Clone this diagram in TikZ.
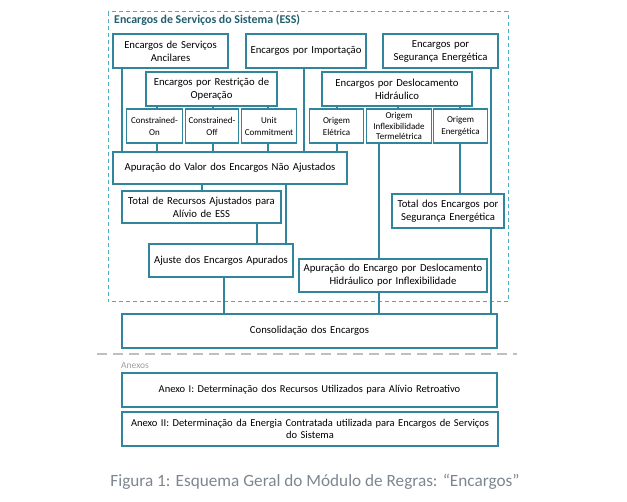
\documentclass[tikz,border=0pt]{standalone}
\usepackage{fontspec}
\setmainfont{Carlito}
\begin{document}
\begin{tikzpicture}[x=1pt,y=-1pt,
  box/.style={draw=boxc, line width=1.6pt, fill=white, align=center, inner sep=1pt,
    font=\fontsize{10.7}{13}\selectfont, text=black},
  sbox/.style={box, font=\fontsize{9}{12}\selectfont},
  conn/.style={draw=boxc, line width=1.4pt}]
\definecolor{boxc}{HTML}{31859C}
\definecolor{framec}{HTML}{4BACC6}
\definecolor{titlec}{HTML}{215E6E}
\definecolor{grayc}{HTML}{BFBFBF}
\definecolor{capc}{HTML}{7D8690}
\useasboundingbox (0,0) rectangle (627,502);
% ESS frame
\draw[framec, line width=1pt, dash pattern=on 4pt off 3pt] (108,12) rectangle (508,302);
\node[anchor=west, font=\bfseries\fontsize{11.9}{13}\selectfont, text=titlec, inner sep=0pt] (title) at (114,20) {Encargos de Serviços do Sistema (ESS)};
% x-coordinates
\foreach \xx in {122,157,202,213,224,257,268,286,304,337,379,398,460,491}
  \coordinate (x\xx) at (\xx,0);
% boxes
\node[box, minimum width=115pt, minimum height=34pt, text width=112pt] (anc) at (170.5,51) {Encargos de Serviços\\Ancilares};
\node[box, minimum width=120pt, minimum height=34pt, text width=117pt] (imp) at (306,51) {Encargos por Importação};
\node[box, minimum width=115pt, minimum height=34pt, text width=112pt] (seg) at (440.5,51) {Encargos por\\Segurança Energética};
\node[box, minimum width=131pt, minimum height=34pt, text width=128pt] (res) at (211.5,89) {Encargos por Restrição de\\Operação};
\node[box, minimum width=150pt, minimum height=34pt, text width=147pt] (des) at (397,89) {Encargos por Deslocamento\\Hidráulico};
\node[sbox, minimum width=55pt, minimum height=34pt, text width=54pt] (con) at (154.5,126) {Constrained-\\On};
\node[sbox, minimum width=52pt, minimum height=34pt, text width=51pt] (coff) at (212,126) {Constrained-\\Off};
\node[sbox, minimum width=54pt, minimum height=34pt, text width=53pt] (uc) at (269,126) {Unit\\Commitment};
\node[sbox, minimum width=53pt, minimum height=34pt, text width=52pt] (oel) at (336.5,126) {Origem\\Elétrica};
\node[sbox, minimum width=64pt, minimum height=34pt, text width=63pt, font=\fontsize{9}{10.3}\selectfont] (oin) at (399,126) {Origem\\Inflexibilidade\\Termelétrica};
\node[sbox, minimum width=53pt, minimum height=34pt, text width=52pt] (oen) at (460.5,126) {Origem\\Energética};
\node[box, minimum width=234pt, minimum height=32pt, text width=231pt] (apv) at (230,168) {Apuração do Valor dos Encargos Não Ajustados};
\node[box, minimum width=159pt, minimum height=32pt, text width=156pt] (tra) at (201.5,207) {Total de Recursos Ajustados para\\Alívio de ESS};
\node[box, minimum width=112pt, minimum height=34pt, text width=110pt] (tse) at (448,211) {Total dos Encargos por\\Segurança Energética};
\node[box, minimum width=144pt, minimum height=33pt, text width=141pt] (aju) at (221,260.5) {Ajuste dos Encargos Apurados};
\node[box, minimum width=188pt, minimum height=33pt, text width=186pt] (ade) at (393,275.5) {Apuração do Encargo por Deslocamento\\Hidráulico por Inflexibilidade};
\node[box, minimum width=375pt, minimum height=34pt, text width=372pt] (cons) at (309.5,331) {Consolidação dos Encargos};
% connectors
\draw[conn] (anc.south -| x122) -- (apv.north -| x122);
\draw[conn] (imp.south -| x304) -- (apv.north -| x304);
\draw[conn] (seg.south -| x491) -- (tse.north -| x491);
\draw[conn] (tse.south -| x491) -- (cons.north -| x491);
\draw[conn] (res.south -| x157) -- (con.north -| x157);
\draw[conn] (res.south -| x213) -- (coff.north -| x213);
\draw[conn] (res.south -| x268) -- (uc.north -| x268);
\draw[conn] (con.south -| x157) -- (apv.north -| x157);
\draw[conn] (coff.south -| x213) -- (apv.north -| x213);
\draw[conn] (uc.south -| x268) -- (apv.north -| x268);
\draw[conn] (des.south -| x337) -- (oel.north -| x337);
\draw[conn] (des.south -| x398) -- (oin.north -| x398);
\draw[conn] (des.south -| x460) -- (oen.north -| x460);
\draw[conn] (oel.south -| x337) -- (apv.north -| x337);
\draw[conn] (oin.south -| x379) -- (ade.north -| x379);
\draw[conn] (oen.south -| x460) -- (tse.north -| x460);
\draw[conn] (apv.south -| x202) -- (tra.north -| x202);
\draw[conn] (apv.south -| x286) -- (aju.north -| x286);
\draw[conn] (tra.south -| x257) -- (aju.north -| x257);
\draw[conn] (aju.south -| x224) -- (cons.north -| x224);
\draw[conn] (ade.south -| x379) -- (cons.north -| x379);
% annex separator
\coordinate (sepL) at (97,354);
\coordinate (sepR) at (517,354);
\draw[grayc, line width=2pt, dash pattern=on 10pt off 6pt] (sepL) -- (sepR);
\node[anchor=west, font=\fontsize{9.5}{11}\selectfont, text=gray!75, inner sep=0pt] (anexos) at (121,365) {Anexos};
\node[box, minimum width=375pt, minimum height=34pt, text width=373pt, font=\fontsize{10.5}{12.5}\selectfont] (ax1) at (309.5,390) {Anexo I: Determinação dos Recursos Utilizados para Alívio Retroativo};
\node[box, minimum width=376pt, minimum height=34pt, text width=374pt, font=\fontsize{10.5}{12.5}\selectfont] (ax2) at (310,429) {Anexo II: Determinação da Energia Contratada utilizada para Encargos de Serviços\\do Sistema};
\node[font=\fontsize{17.2}{19}\selectfont, text=capc, inner sep=0pt] (cap) at (315,482) {Figura 1: Esquema Geral do Módulo de Regras: “Encargos”};
\end{tikzpicture}
\end{document}
